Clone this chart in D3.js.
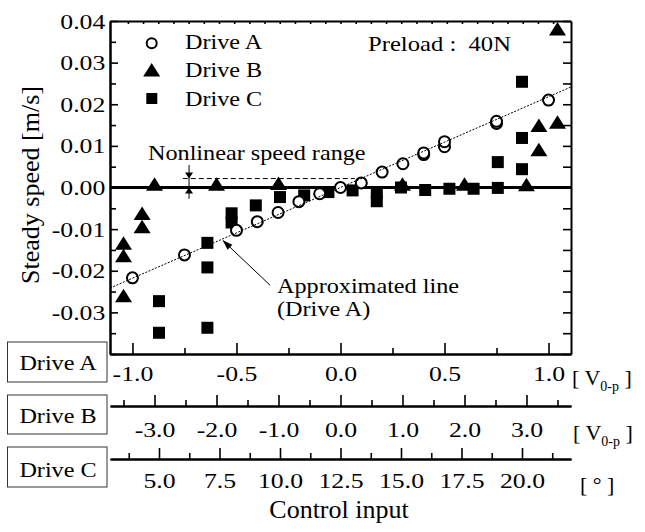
<!DOCTYPE html>
<html>
<head>
<meta charset="utf-8">
<script src="https://cdn.jsdelivr.net/npm/d3@7"></script>
<style>
  body { margin: 0; background: #fff; }
  svg text { font-family: "Liberation Serif", Tinos, "Times New Roman", Times, "DejaVu Serif", serif; fill: #000; }
</style>
</head>
<body>
<script>
// Drive A: control input [V0-p] vs steady speed [m/s]
const driveAInput = [-1.0, -0.75, -0.5, -0.4, -0.3, -0.2, -0.1, 0.0, 0.1, 0.2, 0.3, 0.4, 0.4, 0.5, 0.5, 0.75, 0.75, 1.0];
const driveASpeed = [-0.0217, -0.0162, -0.0103, -0.0082, -0.0060, -0.0034, -0.0015, 0.0000, 0.0011, 0.0037, 0.0057, 0.0079, 0.0083, 0.0098, 0.0110, 0.0154, 0.0159, 0.0210];

// Drive B: control input [V0-p]
const driveBInput = [-3.5, -3.5, -3.5, -3.2, -3.2, -3.0, -2.0, -1.0, 1.0, 2.0, 3.0, 3.2, 3.2, 3.5, 3.5];
const driveBSpeed = [-0.0139, -0.0169, -0.0265, -0.0067, -0.0099, 0.0003, 0.0003, 0.0005, 0.0003, 0.0003, 0.0002, 0.0144, 0.0086, 0.0376, 0.0152];

// Drive C: control input [deg]
const driveCInput = [5, 5, 7, 7, 7, 8, 8, 9, 10, 11, 12, 13, 14, 14, 15, 16, 17, 18, 19, 19, 20, 20, 20];
const driveCSpeed = [-0.0273, -0.0349, -0.0133, -0.0192, -0.0337, -0.0062, -0.0084, -0.0043, -0.0023, -0.0019, -0.0011, -0.0007, -0.0012, -0.0033, 0.0000, -0.0006, -0.0003, -0.0003, -0.0001, 0.0061, 0.0254, 0.0119, 0.0044];

// approximated line for drive A
const approxSlope = 0.0218;
const approxIntercept = 0.0;

// ticks
const yTickValues = [0.04, 0.03, 0.02, 0.01, 0.00, -0.01, -0.02, -0.03];
const yTickLabels = ['0.04', '0.03', '0.02', '0.01', '0.00', '-0.01', '-0.02', '-0.03'];
const yMinorTicks = [0.035, 0.025, 0.015, 0.005, -0.005, -0.015, -0.025, -0.035, -0.04];

const driveATicks = [-1.0, -0.5, 0.0, 0.5, 1.0];
const driveALabels = ['-1.0', '-0.5', '0.0', '0.5', '1.0'];
const driveAMinor = [-0.75, -0.25, 0.25, 0.75];

const driveBTicks = [-3, -2, -1, 0, 1, 2, 3];
const driveBLabels = ['-3.0', '-2.0', '-1.0', '0.0', '1.0', '2.0', '3.0'];
const driveBMinor = [-3.5, -2.5, -1.5, -0.5, 0.5, 1.5, 2.5, 3.5];

const driveCTicks = [5, 7.5, 10, 12.5, 15, 17.5, 20];
const driveCLabels = ['5.0', '7.5', '10.0', '12.5', '15.0', '17.5', '20.0'];
const driveCMinor = [3.75, 6.25, 8.75, 11.25, 13.75, 16.25, 18.75, 21.25];

const topTickStep = 0.073;

const FONT = '"Liberation Serif", Tinos, "Times New Roman", Times, "DejaVu Serif", serif';

function start() {
    const margin = {top: 21, right: 74, bottom: 178, left: 110};
    const width = 645 - margin.left - margin.right;
    const height = 532 - margin.top - margin.bottom;

    const xA = d3.scaleLinear().domain([-1.108, 1.108]).range([0, width]);
    const xB = d3.scaleLinear().domain([-3.718, 3.718]).range([0, width]);
    const xC = d3.scaleLinear().domain([2.975, 22.025]).range([0, width]);
    const y = d3.scaleLinear().domain([-0.04, 0.04]).range([height, 0]);

    const svg = d3.select('body')
        .append('svg')
        .attr('width', 645)
        .attr('height', 532)
        .attr('font-family', FONT);

    const main = svg.append('g')
        .attr('transform', 'translate(' + margin.left + ',' + margin.top + ')');

    // the original lettering is a bit wider than Liberation Serif
    function styleAxis(g) {
        g.attr('font-family', FONT).attr('font-size', 22);
        g.select('.domain').attr('stroke', '#000').attr('stroke-width', 2);
        g.selectAll('.tick line').attr('stroke', '#000').attr('stroke-width', 1.6);
        g.selectAll('.tick text').attr('fill', '#000').attr('transform', 'scale(1.17,1)');
    }

    // left axis
    const yAxis = d3.axisLeft(y)
        .tickValues(yTickValues)
        .tickFormat((d, i) => yTickLabels[i])
        .tickSizeInner(-8)
        .tickSizeOuter(0)
        .tickPadding(4);
    main.append('g').call(yAxis).call(styleAxis);
    main.append('g')
        .call(d3.axisLeft(y).tickValues(yMinorTicks).tickFormat('').tickSizeInner(-6).tickSizeOuter(0))
        .call(styleAxis);

    // right axis
    main.append('g')
        .attr('transform', 'translate(' + width + ',0)')
        .call(d3.axisRight(y).tickValues(yTickValues.concat(yMinorTicks)).tickFormat('').tickSizeInner(-8).tickSizeOuter(0))
        .call(styleAxis);

    // top axis
    main.append('g')
        .call(d3.axisTop(xA).tickValues(d3.range(-14, 15).map(k => k * topTickStep)).tickFormat('').tickSizeInner(-3).tickSizeOuter(0))
        .call(styleAxis);

    // bottom axes, one per drive
    function bottomAxis(scale, ticks, labels, minor, offset, labelY) {
        const g = main.append('g').attr('transform', 'translate(0,' + offset + ')');
        g.call(d3.axisBottom(scale).tickValues(ticks).tickFormat((d, i) => labels[i]).tickSizeInner(-11).tickSizeOuter(0))
            .call(styleAxis);
        g.selectAll('.tick text').attr('y', labelY).attr('dy', null);
        main.append('g').attr('transform', 'translate(0,' + offset + ')')
            .call(d3.axisBottom(scale).tickValues(minor).tickFormat('').tickSizeInner(-6).tickSizeOuter(0))
            .call(styleAxis);
    }
    bottomAxis(xA, driveATicks, driveALabels, driveAMinor, height, 27);
    bottomAxis(xB, driveBTicks, driveBLabels, driveBMinor, 385, 31);
    bottomAxis(xC, driveCTicks, driveCLabels, driveCMinor, 438, 29);

    // zero line
    main.append('line')
        .attr('x1', 0).attr('x2', width)
        .attr('y1', y(0)).attr('y2', y(0))
        .attr('stroke', '#000').attr('stroke-width', 3);

    // markers
    const tri = 'M0,-9L8.5,4.5L-8.5,4.5Z';

    main.append('g').selectAll('rect')
        .data(d3.zip(driveCInput, driveCSpeed))
        .join('rect')
        .attr('x', d => xC(d[0]) - 6)
        .attr('y', d => y(d[1]) - 6)
        .attr('width', 12).attr('height', 12)
        .attr('fill', '#000');

    main.append('g').selectAll('path')
        .data(d3.zip(driveBInput, driveBSpeed))
        .join('path')
        .attr('d', tri)
        .attr('transform', d => 'translate(' + xB(d[0]) + ',' + y(d[1]) + ')')
        .attr('fill', '#000');

    main.append('g').selectAll('circle')
        .data(d3.zip(driveAInput, driveASpeed))
        .join('circle')
        .attr('cx', d => xA(d[0]))
        .attr('cy', d => y(d[1]))
        .attr('r', 5.5)
        .attr('fill', '#fff')
        .attr('stroke', '#000')
        .attr('stroke-width', 2);

    // approximated line (dotted)
    const xd = xA.domain();
    main.append('line')
        .attr('x1', xA(xd[0])).attr('y1', y(approxSlope * xd[0] + approxIntercept))
        .attr('x2', xA(xd[1])).attr('y2', y(approxSlope * xd[1] + approxIntercept))
        .attr('stroke', '#000').attr('stroke-width', 1)
        .attr('stroke-dasharray', '2,1.5');

    // arrowhead helper
    function arrowHead(x0, y0, x1, y1, len, half) {
        const a = Math.atan2(y1 - y0, x1 - x0);
        const bx = x1 - len * Math.cos(a), by = y1 - len * Math.sin(a);
        const px = -Math.sin(a) * half, py = Math.cos(a) * half;
        main.append('path')
            .attr('d', 'M' + x1 + ',' + y1 + 'L' + (bx + px) + ',' + (by + py) + 'L' + (bx - px) + ',' + (by - py) + 'Z')
            .attr('fill', '#000');
    }

    // nonlinear speed range marker
    main.append('line')
        .attr('x1', xA(-0.758)).attr('x2', xA(0.069))
        .attr('y1', y(0.00215)).attr('y2', y(0.00215))
        .attr('stroke', '#000').attr('stroke-width', 1)
        .attr('stroke-dasharray', '5,3');
    const vx = xA(-0.728);
    main.append('line')
        .attr('x1', vx).attr('x2', vx)
        .attr('y1', y(0.0054)).attr('y2', y(-0.0027))
        .attr('stroke', '#000').attr('stroke-width', 1);
    arrowHead(vx, y(0.0054), vx, y(0.00215), 6, 4);
    arrowHead(vx, y(-0.0027), vx, y(0), 6, 4);

    // approximated line arrow
    const ax0 = xA(-0.338), ay0 = y(-0.0235), ax1 = xA(-0.566), ay1 = y(-0.0127);
    main.append('line')
        .attr('x1', ax0).attr('y1', ay0).attr('x2', ax1).attr('y2', ay1)
        .attr('stroke', '#000').attr('stroke-width', 1);
    arrowHead(ax0, ay0, ax1, ay1, 10, 3.5);

    // texts
    function label(x, yy, txt, size, anchor, sx) {
        return svg.append('text')
            .attr('transform', 'translate(' + x + ',' + yy + ') scale(' + (sx || 1.1) + ',1)')
            .attr('font-size', size)
            .attr('text-anchor', anchor || 'start')
            .style('white-space', 'pre')
            .text(txt);
    }
    label(148, 160, 'Nonlinear speed range', 22);
    label(277, 293, 'Approximated line', 22);
    label(277, 316, '(Drive A)', 22);
    label(368, 51, 'Preload :  40N', 22, 'start', 1.12);

    // legend
    const legend = svg.append('g');
    legend.append('circle').attr('cx', 151.7).attr('cy', 43.3).attr('r', 5)
        .attr('fill', '#fff').attr('stroke', '#000').attr('stroke-width', 2);
    legend.append('path').attr('d', tri).attr('transform', 'translate(151.7,72)').attr('fill', '#000');
    legend.append('rect').attr('x', 146.3).attr('y', 93).attr('width', 11).attr('height', 11).attr('fill', '#000');
    label(185, 49, 'Drive A', 22);
    label(185, 77, 'Drive B', 22);
    label(185, 106, 'Drive C', 22);

    // drive name boxes
    const boxes = [
        {name: 'Drive A', y0: 342, y1: 382, base: 370},
        {name: 'Drive B', y0: 395, y1: 434, base: 423},
        {name: 'Drive C', y0: 447, y1: 487, base: 477}
    ];
    boxes.forEach(b => {
        svg.append('rect')
            .attr('x', 7.5).attr('y', b.y0)
            .attr('width', 99.5).attr('height', b.y1 - b.y0)
            .attr('fill', 'none').attr('stroke', '#333').attr('stroke-width', 1);
        label(58, b.base, b.name, 22, 'middle');
    });

    // units
    function voltUnit(x, yy) {
        const t = svg.append('text').attr('x', x).attr('y', yy).attr('font-size', 22)
            .style('white-space', 'pre');
        t.append('tspan').text('[ V');
        t.append('tspan').attr('font-size', 14).attr('dy', 6).text('0-p');
        t.append('tspan').attr('dy', -6).text(' ]');
    }
    voltUnit(572, 385);
    voltUnit(573, 440);
    label(580, 492, '[ \u00b0 ]', 22, 'start', 1);

    // axis titles
    label(339, 518, 'Control input', 26, 'middle', 1);
    svg.append('text')
        .attr('transform', 'translate(39,185) rotate(-90)')
        .attr('text-anchor', 'middle')
        .attr('font-size', 26)
        .text('Steady speed [m/s]');
}

document.addEventListener('DOMContentLoaded', () => start());
</script>
</body>
</html>
